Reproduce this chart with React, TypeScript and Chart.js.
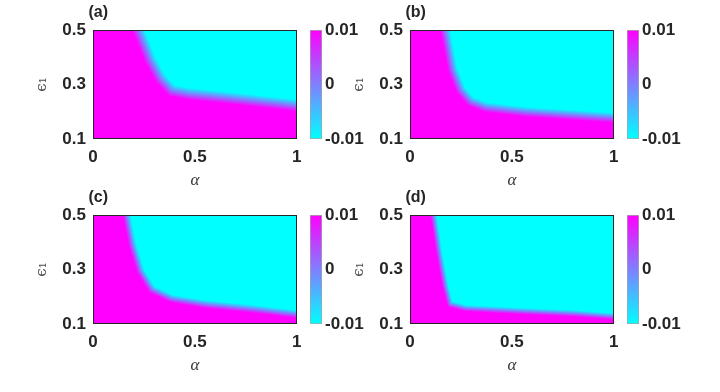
import React, { useEffect, useRef } from 'react';
import { Chart, registerables } from 'chart.js';
Chart.register(...registerables);

// ---------- data ----------
const alphaTicks = [0, 0.5, 1];
const epsTicks = [0.1, 0.3, 0.5];
const cbTicks = [-0.01, 0, 0.01];
const cbMin = -0.01;
const cbMax = 0.01;
const panelLabels = ['(a)', '(b)', '(c)', '(d)'];

// centre line of the magenta/cyan transition in each panel (alpha, eps1)
const boundaryAlphaA = [0.223, 0.282, 0.331, 0.387, 0.468, 0.629, 0.79, 1];
const boundaryEpsA = [0.5, 0.39, 0.323, 0.278, 0.266, 0.254, 0.241, 0.223];
const boundaryAlphaB = [0.173, 0.21, 0.25, 0.298, 0.371, 0.565, 0.806, 1];
const boundaryEpsB = [0.5, 0.354, 0.28, 0.238, 0.217, 0.2, 0.188, 0.178];
const boundaryAlphaC = [0.165, 0.194, 0.234, 0.29, 0.387, 0.548, 0.79, 1];
const boundaryEpsC = [0.5, 0.391, 0.294, 0.227, 0.193, 0.173, 0.155, 0.136];
const boundaryAlphaD = [0.116, 0.145, 0.174, 0.197, 0.274, 0.565, 0.806, 1];
const boundaryEpsD = [0.5, 0.355, 0.239, 0.173, 0.158, 0.147, 0.139, 0.128];

const boundaryAlpha = [boundaryAlphaA, boundaryAlphaB, boundaryAlphaC, boundaryAlphaD];
const boundaryEps = [boundaryEpsA, boundaryEpsB, boundaryEpsC, boundaryEpsD];

// ---------- styles / layout ----------
const bandPx = [12, 10, 8, 6.5];
const panelPos = [
  { x: 0, y: 0 },
  { x: 317, y: 0 },
  { x: 0, y: 185 },
  { x: 317, y: 185 },
];
const MAIN_W = 310;
const MAIN_H = 196;
const CB_W = 70;
const axisColor = '#262626';
const tickFont = { family: '"Liberation Sans", Arial, sans-serif', weight: 'bold' as const, size: 17 };

function coolColor(t: number): [number, number, number] {
  return [Math.round(255 * t), Math.round(255 * (1 - t)), 255];
}

function segDist(px: number, py: number, ax: number, ay: number, bx: number, by: number) {
  const dx = bx - ax, dy = by - ay;
  const l2 = dx * dx + dy * dy;
  let t = l2 > 0 ? ((px - ax) * dx + (py - ay) * dy) / l2 : 0;
  t = Math.max(0, Math.min(1, t));
  const cx = ax + t * dx, cy = ay + t * dy;
  return Math.hypot(px - cx, py - cy);
}

function inPoly(x: number, y: number, poly: number[][]) {
  let inside = false;
  for (let i = 0, j = poly.length - 1; i < poly.length; j = i++) {
    const [xi, yi] = poly[i];
    const [xj, yj] = poly[j];
    if ((yi > y) !== (yj > y) && x < ((xj - xi) * (y - yi)) / (yj - yi) + xi) inside = !inside;
  }
  return inside;
}

const heatPlugin = {
  id: 'heat',
  beforeDatasetsDraw(chart: any) {
    const xs = chart.scales.x;
    const ys = chart.scales.y;
    const { left, top, right, bottom } = chart.chartArea;
    const band = chart.options.plugins.heat.band;
    const pts: number[][] = chart.data.datasets[0].data.map((p: any) => [
      xs.getPixelForValue(p.x),
      ys.getPixelForValue(p.y),
    ]);
    const poly = [
      ...pts,
      [xs.getPixelForValue(1), ys.getPixelForValue(0.1)],
      [xs.getPixelForValue(0), ys.getPixelForValue(0.1)],
      [xs.getPixelForValue(0), ys.getPixelForValue(0.5)],
    ];
    const x0 = Math.round(left), y0 = Math.round(top);
    const W = Math.round(right) - x0;
    const H = Math.round(bottom) - y0;
    const off = document.createElement('canvas');
    off.width = W;
    off.height = H;
    const octx = off.getContext('2d')!;
    const img = octx.createImageData(W, H);
    for (let j = 0; j < H; j++) {
      for (let i = 0; i < W; i++) {
        const X = x0 + i + 0.5, Y = y0 + j + 0.5;
        let d = Infinity;
        for (let k = 0; k < pts.length - 1; k++) {
          d = Math.min(d, segDist(X, Y, pts[k][0], pts[k][1], pts[k + 1][0], pts[k + 1][1]));
        }
        const s = inPoly(X, Y, poly) ? d : -d;
        const t = Math.max(0, Math.min(1, 0.5 + s / band));
        const [r, g, b] = coolColor(t);
        const o = (j * W + i) * 4;
        img.data[o] = r;
        img.data[o + 1] = g;
        img.data[o + 2] = b;
        img.data[o + 3] = 255;
      }
    }
    octx.putImageData(img, 0, 0);
    chart.ctx.drawImage(off, x0, y0);
  },
};

const framePlugin = {
  id: 'frame',
  afterDraw(chart: any) {
    const { left, top, right, bottom } = chart.chartArea;
    const ctx = chart.ctx;
    ctx.save();
    ctx.strokeStyle = axisColor;
    ctx.lineWidth = 1;
    ctx.strokeRect(Math.round(left) + 0.5, Math.round(top) + 0.5, Math.round(right - left) - 1, Math.round(bottom - top) - 1);
    const label = chart.options.plugins.frame.label;
    ctx.fillStyle = axisColor;
    ctx.font = 'bold 16px "Liberation Sans", Arial, sans-serif';
    ctx.textBaseline = 'alphabetic';
    ctx.textAlign = 'left';
    ctx.fillText(label, left - 4.5, top - 12.7);
    ctx.restore();
  },
};

function fmt(v: any) {
  return String(Number(v));
}

function mainConfig(i: number): any {
  return {
    type: 'scatter',
    data: {
      datasets: [
        {
          data: boundaryAlpha[i].map((a, k) => ({ x: a, y: boundaryEps[i][k] })),
          showLine: false,
          pointRadius: 0,
          pointHoverRadius: 0,
        },
      ],
    },
    options: {
      responsive: false,
      animation: false,
      events: [],
      layout: { padding: { left: 0, top: 30, right: 10, bottom: 0 } },
      plugins: {
        legend: { display: false },
        tooltip: { enabled: false },
        heat: { band: bandPx[i] },
        frame: { label: panelLabels[i] },
      },
      scales: {
        x: {
          type: 'linear',
          min: 0,
          max: 1,
          grid: { display: false, drawTicks: false },
          border: { display: false },
          ticks: { padding: 8.5, font: tickFont, color: axisColor, callback: fmt, maxRotation: 0, autoSkip: false },
          afterBuildTicks: (s: any) => {
            s.ticks = alphaTicks.map((v) => ({ value: v }));
          },
          afterFit: (s: any) => {
            s.height = MAIN_H - 139;
          },
          title: {
            display: true,
            text: 'α',
            font: { family: '"Liberation Serif", "DejaVu Serif", serif', style: 'italic', size: 17 },
            color: '#333333',
            padding: { top: 0, bottom: 5 },
          },
        },
        y: {
          type: 'linear',
          min: 0.1,
          max: 0.5,
          grid: { display: false, drawTicks: false },
          border: { display: false },
          ticks: { padding: 7, font: tickFont, color: axisColor, callback: fmt, autoSkip: false },
          afterBuildTicks: (s: any) => {
            s.ticks = epsTicks.map((v) => ({ value: v }));
          },
          afterFit: (s: any) => {
            s.width = 93;
          },
          title: {
            display: true,
            text: 'ϵ₁',
            font: { family: '"DejaVu Serif", serif', size: 15 },
            color: '#4a4a4a',
            padding: { top: 33, bottom: 0 },
          },
        },
      },
    },
    plugins: [heatPlugin, framePlugin],
  };
}

function cbConfig(): any {
  return {
    type: 'bar',
    data: {
      labels: [''],
      datasets: [
        {
          data: [[cbMin, cbMax]],
          backgroundColor: (ctx: any) => {
            const ch = ctx.chart;
            const a = ch.chartArea;
            if (!a) return '#8080ff';
            const g = ch.ctx.createLinearGradient(0, a.bottom, 0, a.top);
            g.addColorStop(0, '#00ffff');
            g.addColorStop(1, '#ff00ff');
            return g;
          },
          borderColor: '#a6a6a6',
          borderWidth: 1,
          borderSkipped: false,
          barPercentage: 1,
          categoryPercentage: 1,
        },
      ],
    },
    options: {
      responsive: false,
      animation: false,
      events: [],
      layout: { padding: { left: 10, top: 30, right: 0, bottom: MAIN_H - 139 } },
      plugins: { legend: { display: false }, tooltip: { enabled: false } },
      scales: {
        x: { display: false },
        y: {
          type: 'linear',
          position: 'right',
          min: cbMin,
          max: cbMax,
          grid: { display: false, drawTicks: false },
          border: { display: false },
          ticks: { padding: 3, font: tickFont, color: axisColor, callback: fmt, autoSkip: false },
          afterBuildTicks: (s: any) => {
            s.ticks = cbTicks.map((v) => ({ value: v }));
          },
          afterFit: (s: any) => {
            s.width = CB_W - 10 - 12;
          },
        },
      },
    },
  };
}

export default function App() {
  const refs = useRef<(HTMLCanvasElement | null)[]>([]);
  useEffect(() => {
    const charts: Chart[] = [];
    panelPos.forEach((_, i) => {
      const main = refs.current[2 * i];
      const cb = refs.current[2 * i + 1];
      if (main) charts.push(new Chart(main, mainConfig(i)));
      if (cb) charts.push(new Chart(cb, cbConfig()));
    });
    return () => charts.forEach((c) => c.destroy());
  }, []);
  return (
    <div style={{ position: 'absolute', left: 0, top: 0, width: 720, height: 392, background: '#fff' }}>
      {panelPos.map((pos, i) => (
        <React.Fragment key={i}>
          <canvas
            ref={(el) => {
              refs.current[2 * i] = el;
            }}
            width={MAIN_W}
            height={MAIN_H}
            style={{ position: 'absolute', left: pos.x, top: pos.y }}
          />
          <canvas
            ref={(el) => {
              refs.current[2 * i + 1] = el;
            }}
            width={CB_W}
            height={MAIN_H}
            style={{ position: 'absolute', left: pos.x + 300, top: pos.y }}
          />
        </React.Fragment>
      ))}
    </div>
  );
}
